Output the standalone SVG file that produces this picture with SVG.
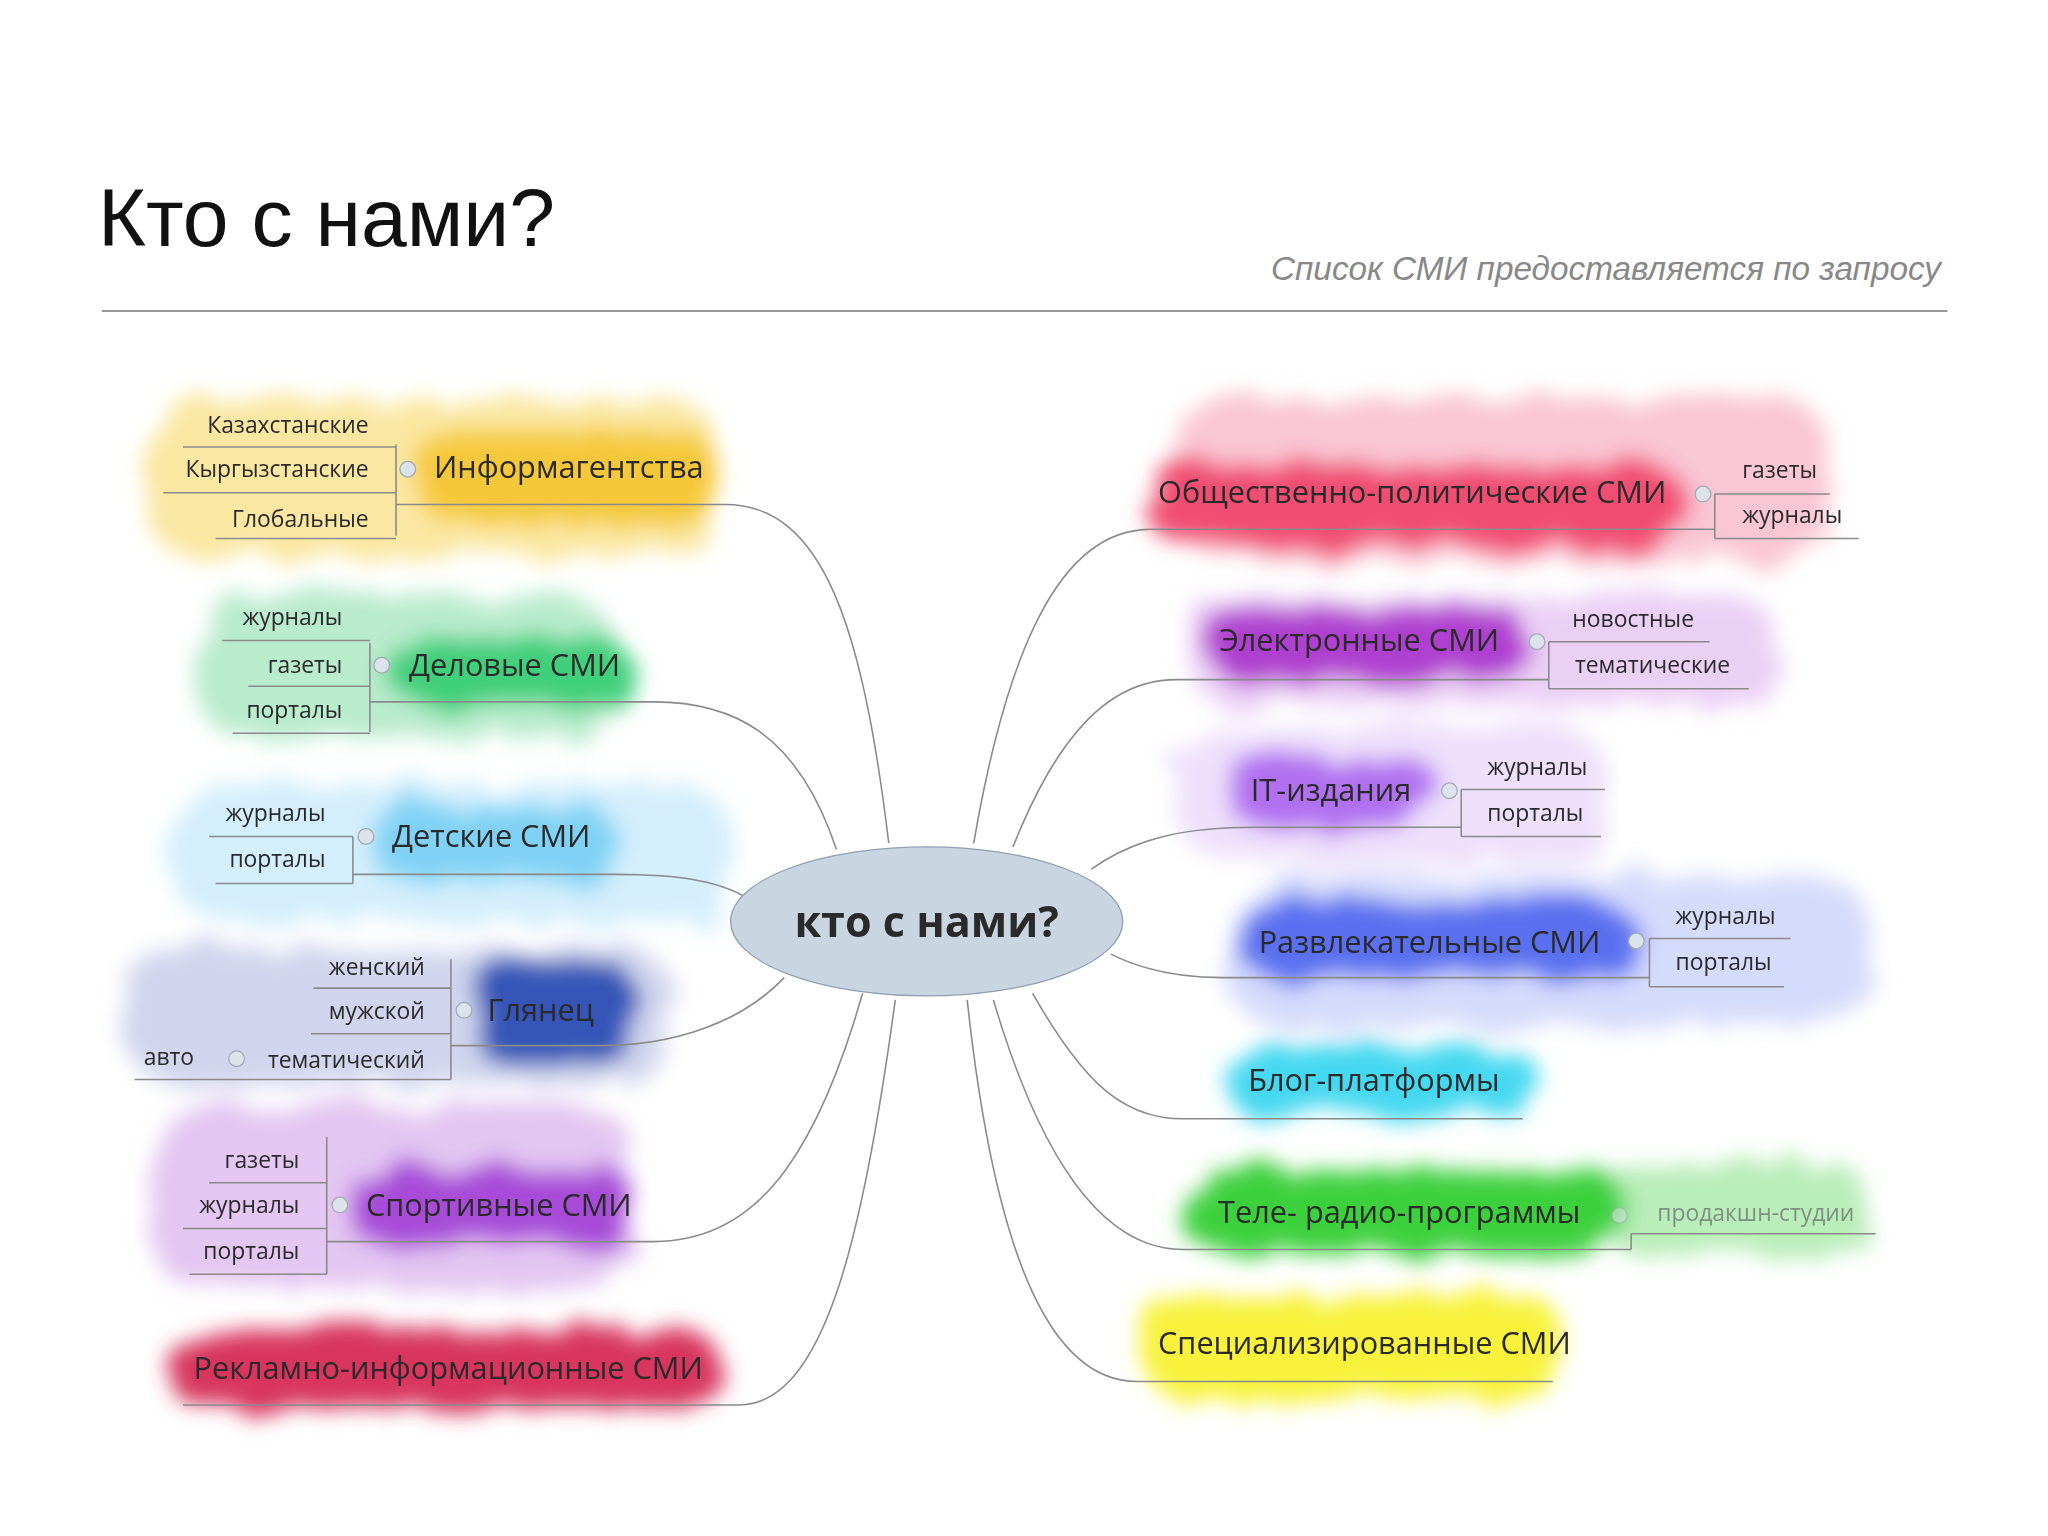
<svg xmlns="http://www.w3.org/2000/svg" width="2048" height="1536" viewBox="0 0 2048 1536">
<defs>
<filter id="blur" x="-20%" y="-40%" width="140%" height="180%"><feTurbulence type="fractalNoise" baseFrequency="0.03" numOctaves="2" result="n"/><feDisplacementMap in="SourceGraphic" in2="n" scale="30" result="d"/><feGaussianBlur in="d" stdDeviation="8"/></filter>
</defs>
<style>
.t{font-family:"Open Sans","DejaVu Sans",sans-serif;fill:#2a2a2a}
.m{font-size:23.5px}
.s{font-size:17.5px}
.l{stroke:#8a8a8a;stroke-width:1.2;fill:none}
.b{filter:url(#blur)}
.c{fill:#dde3ea;stroke:#a0aab5;stroke-width:1}
</style>
<rect width="2048" height="1536" fill="#fff"/>
<g transform="scale(1.307)">
<text x="75" y="188" font-family="Liberation Sans,Arial,sans-serif" font-size="63" fill="#111">Кто с нами?</text>
<text x="1485" y="214" text-anchor="end" font-family="Liberation Sans,Arial,sans-serif" font-size="25.5" font-style="italic" fill="#888">Список СМИ предоставляется по запросу</text>
<line x1="78" y1="238" x2="1490" y2="238" stroke="#999" stroke-width="1.5"/>
<g id="blobs" class="b">
<rect x="110" y="305" width="440" height="120" rx="40" fill="#f8dd7a" opacity="0.7"/>
<rect x="320" y="330" width="230" height="70" rx="30" fill="#f5c83a"/>
<rect x="150" y="455" width="320" height="110" rx="40" fill="#a8e6c0" opacity="0.8"/>
<rect x="300" y="485" width="180" height="55" rx="25" fill="#3fcf7a"/>
<rect x="130" y="600" width="430" height="105" rx="40" fill="#c8eafb" opacity="0.8"/>
<rect x="285" y="615" width="185" height="60" rx="25" fill="#7fd2f5"/>
<rect x="95" y="725" width="420" height="105" rx="40" fill="#c4cae8" opacity="0.8"/>
<rect x="365" y="735" width="120" height="80" rx="25" fill="#3656b8"/>
<rect x="115" y="845" width="370" height="140" rx="40" fill="#dcb8ee" opacity="0.8"/>
<rect x="270" y="895" width="215" height="60" rx="25" fill="#a74bd8"/>
<rect x="130" y="1015" width="420" height="65" rx="30" fill="#d8365e"/>
<rect x="900" y="305" width="500" height="125" rx="40" fill="#f8b8c8" opacity="0.8"/>
<rect x="880" y="355" width="410" height="65" rx="30" fill="#f04e72"/>
<rect x="910" y="455" width="450" height="85" rx="35" fill="#e6c4f2" opacity="0.8"/>
<rect x="925" y="465" width="245" height="55" rx="25" fill="#b040d0"/>
<rect x="900" y="555" width="330" height="105" rx="40" fill="#ead8fa" opacity="0.8"/>
<rect x="940" y="578" width="160" height="55" rx="25" fill="#b070f0"/>
<rect x="940" y="670" width="490" height="115" rx="40" fill="#cad2fa" opacity="0.8"/>
<rect x="950" y="690" width="300" height="60" rx="25" fill="#5a70f0"/>
<rect x="940" y="800" width="235" height="55" rx="25" fill="#44d8f0"/>
<rect x="1220" y="890" width="210" height="70" rx="30" fill="#a8e8a8" opacity="0.8"/>
<rect x="905" y="895" width="340" height="65" rx="30" fill="#3ed03e"/>
<rect x="875" y="990" width="320" height="80" rx="30" fill="#f8f23c"/>
</g>
<g id="connectors" class="l">
<path d="M680,645 C660,480 630,386 555,386 L303,386"/>
<path d="M303,340 V410 M140,342 H303 M125,377 H303 M165,412 H303"/>
<path d="M640,650 C610,560 560,537 500,537 L283,537"/>
<path d="M283,492 V560 M170,490 H283 M190,525 H283 M178,561 H283"/>
<path d="M568,685 C540,670 500,669 470,669 L270,669"/>
<path d="M270,640 V676 M160,640 H270 M165,676 H270"/>
<path d="M600,748 C560,790 500,800 460,800 L345,800"/>
<path d="M345,734 V826 M240,756 H345 M238,791 H345 M103,826 H345"/>
<path d="M660,760 C620,900 570,950 500,950 L250,950"/>
<path d="M250,870 V975 M160,905 H250 M140,940 H250 M145,975 H250"/>
<path d="M685,765 C660,950 630,1075 565,1075 L140,1075"/>
<path d="M745,645 C770,500 810,405 880,405 L1312,405"/>
<path d="M1312,378 V412 M1312,378 H1400 M1312,412 H1422"/>
<path d="M775,648 C810,560 850,520 900,520 L1185,520"/>
<path d="M1185,491 V527 M1185,491 H1308 M1185,527 H1338"/>
<path d="M835,665 C870,640 910,633 960,633 L1118,633"/>
<path d="M1118,604 V640 M1118,604 H1228 M1118,640 H1225"/>
<path d="M850,730 C880,745 910,748 935,748 L1262,748"/>
<path d="M1262,718 V755 M1262,718 H1370 M1262,755 H1365"/>
<path d="M790,760 C830,830 860,856 905,856 L1165,856"/>
<path d="M760,765 C800,900 850,956 905,956 L1248,956"/>
<path d="M1248,944 V956 M1248,944 H1435"/>
<path d="M740,765 C760,950 800,1057 870,1057 L1188,1057"/>
</g>
<g id="center"><ellipse cx="709" cy="705" rx="150" ry="57" fill="#c9d6e2" stroke="#8fa0b0" stroke-width="1"/><text x="709" y="717" text-anchor="middle" class="t" font-size="33" font-weight="bold" fill="#333">кто с нами?</text></g>
<g id="n-info"><text x="332" y="366" class="t m">Информагентства</text><circle cx="312" cy="359" r="6" class="c"/>
<text x="282" y="331" text-anchor="end" class="t s">Казахстанские</text><text x="282" y="365" text-anchor="end" class="t s">Кыргызстанские</text><text x="282" y="403" text-anchor="end" class="t s">Глобальные</text></g>
<g id="n-del"><text x="313" y="517" class="t m">Деловые СМИ</text><circle cx="292" cy="509" r="6" class="c"/>
<text x="262" y="478" text-anchor="end" class="t s">журналы</text><text x="262" y="515" text-anchor="end" class="t s">газеты</text><text x="262" y="549" text-anchor="end" class="t s">порталы</text></g>
<g id="n-det"><text x="300" y="648" class="t m">Детские СМИ</text><circle cx="280" cy="640" r="6" class="c"/>
<text x="249" y="628" text-anchor="end" class="t s">журналы</text><text x="249" y="663" text-anchor="end" class="t s">порталы</text></g>
<g id="n-gl"><text x="373" y="781" class="t m">Глянец</text><circle cx="355" cy="773" r="6" class="c"/>
<text x="325" y="746" text-anchor="end" class="t s">женский</text><text x="325" y="780" text-anchor="end" class="t s">мужской</text><text x="325" y="817" text-anchor="end" class="t s">тематический</text><circle cx="181" cy="810" r="6" class="c"/><text x="110" y="815" class="t s">авто</text></g>
<g id="n-sport"><text x="280" y="930" class="t m">Спортивные СМИ</text><circle cx="260" cy="922" r="6" class="c"/>
<text x="229" y="894" text-anchor="end" class="t s">газеты</text><text x="229" y="928" text-anchor="end" class="t s">журналы</text><text x="229" y="963" text-anchor="end" class="t s">порталы</text></g>
<g id="n-rekl"><text x="148" y="1055" class="t m">Рекламно-информационные СМИ</text></g>
<g id="n-obsh"><text x="886" y="385" class="t m">Общественно-политические СМИ</text><circle cx="1303" cy="378" r="6" class="c"/>
<text x="1333" y="366" class="t s">газеты</text><text x="1333" y="400" class="t s">журналы</text></g>
<g id="n-el"><text x="933" y="498" class="t m">Электронные СМИ</text><circle cx="1176" cy="491" r="6" class="c"/>
<text x="1203" y="480" class="t s">новостные</text><text x="1205" y="515" class="t s">тематические</text></g>
<g id="n-it"><text x="957" y="613" class="t m">IT-издания</text><circle cx="1109" cy="605" r="6" class="c"/>
<text x="1138" y="593" class="t s">журналы</text><text x="1138" y="628" class="t s">порталы</text></g>
<g id="n-razv"><text x="963" y="729" class="t m">Развлекательные СМИ</text><circle cx="1252" cy="720" r="6" class="c"/>
<text x="1282" y="707" class="t s">журналы</text><text x="1282" y="742" class="t s">порталы</text></g>
<g id="n-blog"><text x="955" y="835" class="t m">Блог-платформы</text></g>
<g id="n-tv"><text x="932" y="936" class="t m">Теле- радио-программы</text><circle cx="1239" cy="930" r="6" class="c" opacity="0.5"/>
<text x="1268" y="934" class="t s" style="fill:#809080">продакшн-студии</text></g>
<g id="n-spec"><text x="886" y="1036" class="t m">Специализированные СМИ</text></g>
</g>
</svg>
